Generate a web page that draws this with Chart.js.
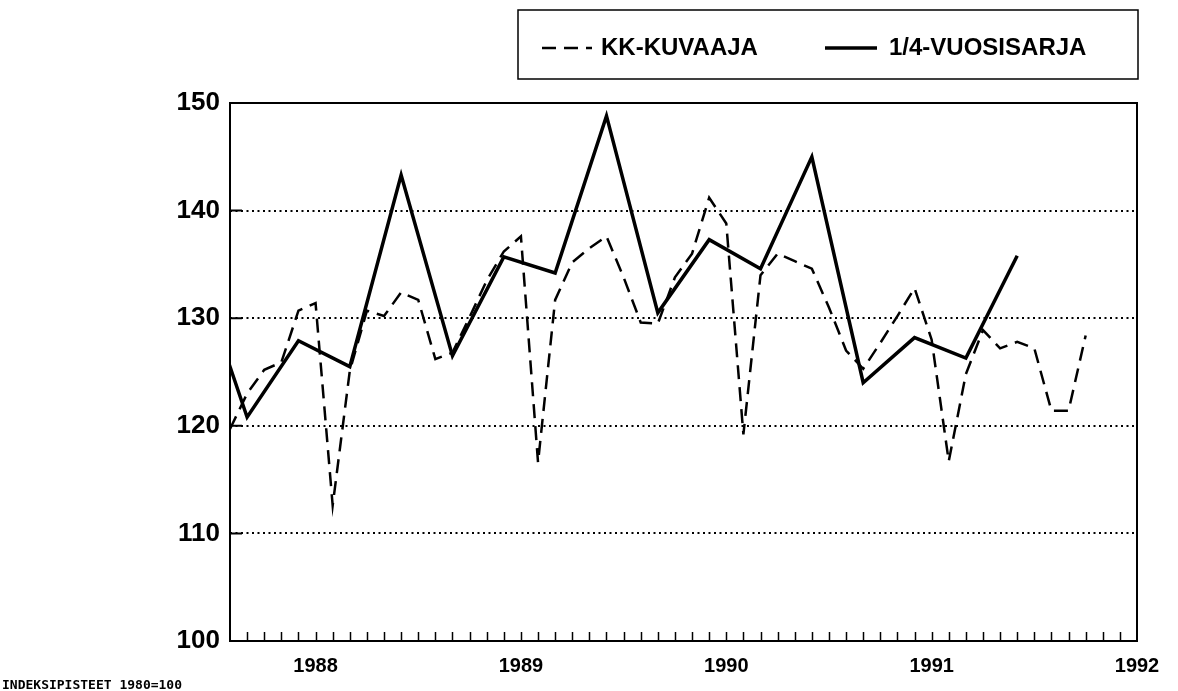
<!DOCTYPE html>
<html>
<head>
<meta charset="utf-8">
<script src="https://cdn.jsdelivr.net/npm/chart.js@4/dist/chart.umd.min.js"></script>
<style>
  html, body { margin: 0; padding: 0; background: #fff; }
  #wrap { width: 1178px; height: 691px; }
</style>
</head>
<body>
<div id="wrap"><canvas id="indeksi" width="1178" height="691"></canvas></div>
<script>
// monthly series (dashed), first value = Aug 1987
const monthlyStart = [1987, 8];
const monthlyValues = [
    119.7, 123.0, 125.2, 125.9, 130.7, 131.4, 112.6, 125.1, 130.7, 130.2, 132.4, 131.7,
    126.2, 126.8, 130.1, 133.5, 136.2, 137.6, 116.6, 131.7, 135.2, 136.5, 137.6, 133.8,
    129.6, 129.5, 133.8, 136.0, 141.2, 138.8, 119.2, 134.0, 136.0, 135.3, 134.6, 131.0,
    127.0, 125.3, 127.7, 130.2, 132.8, 128.0, 116.7, 124.8, 128.9, 127.2, 127.8, 127.2,
    121.4, 121.4, 128.4
];

// quarterly series (solid), plotted at the last month of each quarter, first = Jun 1987
const quarterlyStart = [1987, 6];
const quarterlyValues = [
    134.9, 120.8, 127.9, 125.5, 143.3, 126.5, 135.7, 134.2, 148.8,
    130.5, 137.3, 134.6, 145.0, 124.0, 128.2, 126.3, 135.8
];

const yearTicks = [1988, 1989, 1990, 1991, 1992];
const valueTicks = [100, 110, 120, 130, 140, 150];
const seriesNames = ['KK-KUVAAJA', '1/4-VUOSISARJA'];
const footNote = 'INDEKSIPISTEET 1980=100';

// x axis works in month serials (year*12 + month-1)
const serial = (y, m) => y * 12 + (m - 1);
const xMin = serial(1987, 8);
const xMax = serial(1992, 1);

const monthlyPoints = monthlyValues.map((v, i) => ({ x: serial(...monthlyStart) + i, y: v }));
const quarterlyPoints = quarterlyValues.map((v, i) => ({ x: serial(...quarterlyStart) + i * 3, y: v }));

const DASH = [14, 8];
const FONT = '"Liberation Sans", Arial, sans-serif';

const decorations = {
    id: 'decorations',
    afterDraw(chart) {
        const ctx = chart.ctx;
        const area = chart.chartArea;
        const xs = chart.scales.x;
        const ys = chart.scales.y;
        ctx.save();
        ctx.strokeStyle = '#000';

        // inward month ticks on the x axis
        ctx.lineWidth = 1.5;
        ctx.beginPath();
        for (let m = xMin + 1; m < xMax; m++) {
            const px = Math.round(xs.getPixelForValue(m)) + 0.5;
            ctx.moveTo(px, area.bottom);
            ctx.lineTo(px, area.bottom - 9);
        }
        ctx.stroke();

        // short solid ticks where the grid lines meet the y axis
        ctx.lineWidth = 2;
        ctx.beginPath();
        valueTicks.slice(1, -1).forEach(v => {
            const py = ys.getPixelForValue(v);
            ctx.moveTo(area.left, py);
            ctx.lineTo(area.left + 12, py);
        });
        ctx.stroke();

        // frame
        ctx.lineWidth = 2;
        ctx.strokeRect(area.left, area.top, area.right - area.left, area.bottom - area.top);

        // legend box
        ctx.lineWidth = 1.5;
        ctx.strokeRect(518, 10, 620, 69);
        ctx.font = 'bold 24px ' + FONT;
        ctx.fillStyle = '#000';
        ctx.textBaseline = 'middle';

        ctx.lineWidth = 2.5;
        ctx.setLineDash(DASH);
        ctx.beginPath();
        ctx.moveTo(542, 48);
        ctx.lineTo(592, 48);
        ctx.stroke();
        ctx.setLineDash([]);
        ctx.fillText(seriesNames[0], 601, 48);

        ctx.lineWidth = 3.5;
        ctx.beginPath();
        ctx.moveTo(825, 48);
        ctx.lineTo(877, 48);
        ctx.stroke();
        ctx.fillText(seriesNames[1], 889, 48);

        // foot note
        ctx.font = 'bold 13px "DejaVu Sans Mono", "Liberation Mono", monospace';
        ctx.textBaseline = 'alphabetic';
        ctx.fillText(footNote, 2, 689);
        ctx.restore();
    }
};

const ctx = document.getElementById('indeksi').getContext('2d');

const indeksiChart = new Chart(ctx, {
    type: 'line',
    data: {
        datasets: [
            {
                label: seriesNames[0],
                data: monthlyPoints,
                borderColor: '#000',
                borderWidth: 2.5,
                borderDash: DASH,
                pointRadius: 0,
                tension: 0,
                fill: false
            },
            {
                label: seriesNames[1],
                data: quarterlyPoints,
                borderColor: '#000',
                borderWidth: 3.5,
                pointRadius: 0,
                tension: 0,
                fill: false
            }
        ]
    },
    options: {
        responsive: false,
        animation: false,
        layout: { padding: { top: 103, right: 41, left: 0, bottom: 0 } },
        plugins: {
            legend: { display: false },
            tooltip: { enabled: false }
        },
        scales: {
            x: {
                type: 'linear',
                min: xMin,
                max: xMax,
                afterFit: s => { s.height = 50; },
                ticks: {
                    stepSize: 1,
                    autoSkip: false,
                    maxRotation: 0,
                    padding: 5,
                    color: '#000',
                    font: { family: FONT, size: 20, weight: 'bold' },
                    callback: v => (v % 12 === 0 && yearTicks.includes(v / 12)) ? String(v / 12) : ''
                },
                grid: { display: false },
                border: { display: false }
            },
            y: {
                min: 100,
                max: 150,
                afterFit: s => { s.width = 230; },
                afterBuildTicks: s => { s.ticks = valueTicks.map(v => ({ value: v })); },
                ticks: {
                    padding: 10,
                    color: '#000',
                    font: { family: FONT, size: 26, weight: 'bold' }
                },
                grid: {
                    drawTicks: false,
                    lineWidth: 2,
                    color: c => (c.tick && (c.tick.value === 100 || c.tick.value === 150)) ? 'rgba(0,0,0,0)' : '#000'
                },
                border: { display: false, dash: [2, 3.5] }
            }
        }
    },
    plugins: [decorations]
});
</script>
</body>
</html>
